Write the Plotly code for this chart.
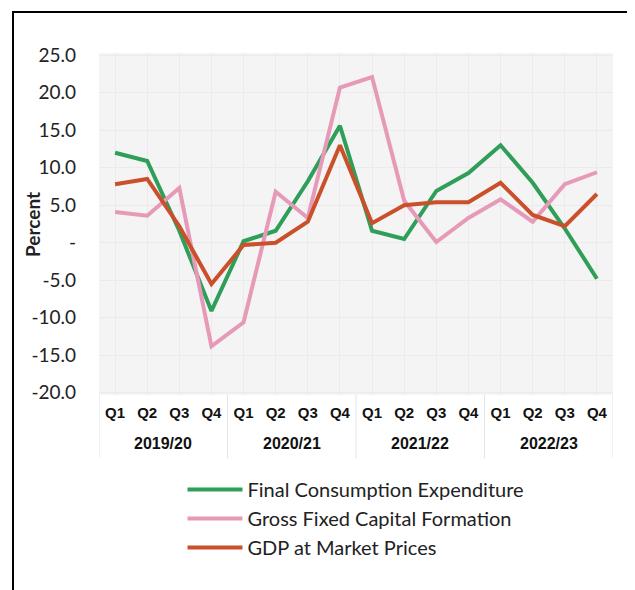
import plotly.graph_objects as go

year_labels = ["2019/20", "2020/21", "2021/22", "2022/23"]
quarters = ["Q1", "Q2", "Q3", "Q4"] * 4
xpos = list(range(len(quarters)))

fce = [12.0, 10.9, 1.6, -9.1, 0.2, 1.6, 8.2, 15.6, 1.6, 0.5, 6.9, 9.3, 13.0, 8.0, 1.9, -4.8]
gfcf = [4.1, 3.6, 7.3, -13.8, -10.6, 6.8, 3.3, 20.7, 22.1, 5.6, 0.1, 3.3, 5.8, 2.8, 7.8, 9.4]
gdp = [7.8, 8.5, 2.2, -5.5, -0.3, 0.0, 2.8, 13.0, 2.6, 5.0, 5.4, 5.4, 8.0, 3.7, 2.2, 6.5]

names = ["Final Consumption Expenditure", "Gross Fixed Capital Formation", "GDP at Market Prices"]
colors = ["#2f9e58", "#e79ab8", "#c9502a"]

yticks = [25, 20, 15, 10, 5, 0, -5, -10, -15, -20]
yticklabels = ["25.0", "20.0", "15.0", "10.0", "5.0", "-", "-5.0", "-10.0", "-15.0", "-20.0"]

fig = go.Figure()
for name, vals, c in zip(names, [fce, gfcf, gdp], colors):
    fig.add_trace(go.Scatter(x=xpos, y=vals, mode="lines", name=name,
                             line=dict(color=c, width=4)))

# page body has an 8px default margin; coordinates below are in figure pixels
W, H = 635, 590
L, R, T, B = 91, 30, 45, 203
pw, ph = W - L - R, H - T - B

def px_x(p):
    return (p - L) / pw

def px_y(p):
    return (H - B - p) / ph

annotations = []
for i, yl in enumerate(year_labels):
    annotations.append(dict(x=4 * i + 1.5, xref="x", y=px_y(435), yref="paper",
                            text=yl, showarrow=False, xanchor="center", yanchor="middle",
                            font=dict(family="Liberation Sans", size=16, color="#111", weight="bold")))
annotations.append(dict(x=px_x(24), xref="paper", y=px_y(217), yref="paper",
                        text="Percent", textangle=-90, showarrow=False,
                        xanchor="center", yanchor="middle",
                        font=dict(family="Lato", size=19, color="#222", weight="bold")))

shapes = [dict(type="rect", xref="paper", yref="paper",
               x0=px_x(5), x1=px_x(622), y0=px_y(640), y1=px_y(4),
               line=dict(color="black", width=2), fillcolor="rgba(0,0,0,0)", layer="below")]
for b in [-0.5, 3.5, 7.5, 11.5, 15.5]:
    shapes.append(dict(type="line", xref="x", yref="paper", x0=b, x1=b,
                       y0=0, y1=px_y(450), line=dict(color="#e3e3e3", width=1)))

fig.update_layout(
    width=W, height=H,
    margin=dict(l=L, r=R, t=T, b=B, autoexpand=False),
    paper_bgcolor="white",
    plot_bgcolor="#f4f4f4",
    font=dict(family="Lato", color="#222"),
    showlegend=True,
    legend=dict(orientation="v", x=0.5, xanchor="center", y=px_y(462), yanchor="top",
                font=dict(family="Lato", size=20, color="#222"),
                itemwidth=55, tracegroupgap=0, bgcolor="rgba(0,0,0,0)"),
    xaxis=dict(range=[-0.5, 15.5], tickvals=xpos, ticktext=quarters,
               showgrid=True, gridcolor="#ebebeb", zeroline=False,
               tickfont=dict(family="Liberation Sans", size=15, color="#111", weight="bold"),
               ticks="", showline=False, ticklabelstandoff=7),
    yaxis=dict(range=[-20.3, 25.3], tickvals=yticks, ticktext=yticklabels,
               tickfont=dict(family="Lato", size=19, color="#222"),
               showgrid=True, gridcolor="#ebebeb", zeroline=False, showline=False,
               ticklabelstandoff=22),
    annotations=annotations,
    shapes=shapes,
)

fig.write_html("out.html")
